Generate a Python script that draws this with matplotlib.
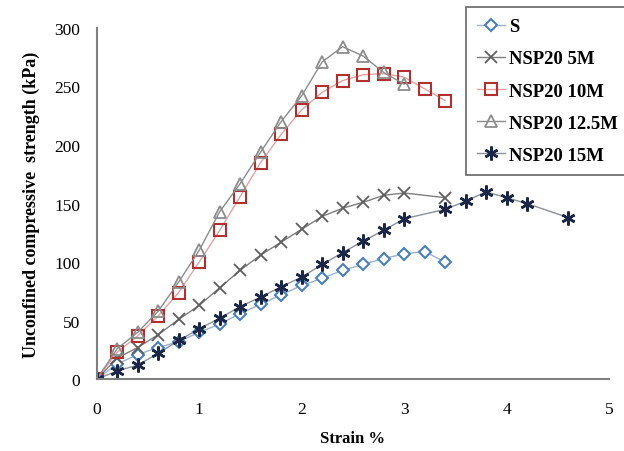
import matplotlib
matplotlib.use('Agg')
import matplotlib.pyplot as plt

plt.rcParams['font.family'] = ['Liberation Serif', 'DejaVu Serif']

# strain (%) and strength (kPa)
strain_s = [0, 0.2, 0.4, 0.6, 0.8, 1.0, 1.2, 1.4, 1.6, 1.8, 2.0, 2.2, 2.4, 2.6, 2.8, 3.0, 3.2, 3.4]
ucs_s = [0, 13, 21, 27, 32, 40, 47, 56, 64, 72, 80, 86, 93, 98, 103, 107, 109, 100]

strain_5m = [0, 0.2, 0.4, 0.6, 0.8, 1.0, 1.2, 1.4, 1.6, 1.8, 2.0, 2.2, 2.4, 2.6, 2.8, 3.0, 3.4]
ucs_5m = [0, 18, 27, 38, 51, 63, 78, 93, 106, 117, 128, 139, 146, 151, 157, 159, 155]

strain_10m = [0, 0.2, 0.4, 0.6, 0.8, 1.0, 1.2, 1.4, 1.6, 1.8, 2.0, 2.2, 2.4, 2.6, 2.8, 3.0, 3.2, 3.4]
ucs_10m = [0, 23, 37, 54, 74, 100, 127, 156, 185, 209, 230, 245, 255, 260, 261, 258, 248, 238]

strain_125m = [0, 0.2, 0.4, 0.6, 0.8, 1.0, 1.2, 1.4, 1.6, 1.8, 2.0, 2.2, 2.4, 2.6, 2.8, 3.0]
ucs_125m = [0, 26, 40, 58, 83, 110, 143, 167, 194, 220, 242, 271, 284, 276, 262, 252]

strain_15m = [0, 0.2, 0.4, 0.6, 0.8, 1.0, 1.2, 1.4, 1.6, 1.8, 2.0, 2.2, 2.4, 2.6, 2.8, 3.0,
              3.4, 3.6, 3.8, 4.0, 4.2, 4.6]
ucs_15m = [0, 7, 12, 22, 33, 43, 52, 62, 70, 79, 87, 98, 108, 118, 127, 137,
           145, 152, 160, 155, 150, 138]

fig = plt.figure(figsize=(6.24, 4.52), dpi=100)
ax = fig.add_axes([0.155, 0.159, 0.821, 0.777])

ax.plot(strain_s, ucs_s, color='#9bb3cf', lw=1, marker='D', ms=6,
        mfc='white', mec='#4a7ebb', mew=1.5, label='S')
ax.plot(strain_5m, ucs_5m, color='#7f7f7f', lw=1, marker='x', ms=9,
        mec='#5f5f5f', mew=1.3, label='NSP20 5M')
ax.plot(strain_10m, ucs_10m, color='#e8a0a0', lw=1, marker='s', ms=9,
        mfc='none', mec='#b03030', mew=1.5, label='NSP20 10M')
ax.plot(strain_125m, ucs_125m, color='#8c8c8c', lw=1, marker='^', ms=9,
        mfc='none', mec='#8c8c8c', mew=1.3, label='NSP20 12.5M')
ax.plot(strain_15m, ucs_15m, color='#8a8f9a', lw=1, marker=(6, 2, 0), ms=10,
        mec='#1c2647', mew=1.8, label='NSP20 15M')

ax.set_xlim(0, 5)
ax.set_ylim(0, 300)
ax.set_xticks([0, 1, 2, 3, 4, 5])
ax.set_yticks([0, 50, 100, 150, 200, 250, 300])
ax.tick_params(length=0, labelsize=12.5)
ax.tick_params(axis='x', pad=16)
ax.tick_params(axis='y', pad=12)
ax.spines['top'].set_visible(False)
ax.spines['right'].set_visible(False)
for s in ('left', 'bottom'):
    ax.spines[s].set_color('#808080')
    ax.spines[s].set_linewidth(1.5)

ax.set_xlabel('Strain %', fontsize=12, fontweight='bold', labelpad=9)
ax.set_ylabel('Unconfined compressive  strength (kPa)', fontsize=13,
              fontweight='bold', labelpad=10)

leg = fig.legend(loc='upper left', bbox_to_anchor=(466 / 624, 1 - 8 / 452),
                 prop={'weight': 'bold', 'size': 13.5}, fancybox=False,
                 edgecolor='#404040', handlelength=1.5, handletextpad=0.2,
                 labelspacing=0.8, borderpad=0.6, borderaxespad=0)
leg.get_frame().set_linewidth(1.2)

fig.savefig('out.png', dpi=100)
